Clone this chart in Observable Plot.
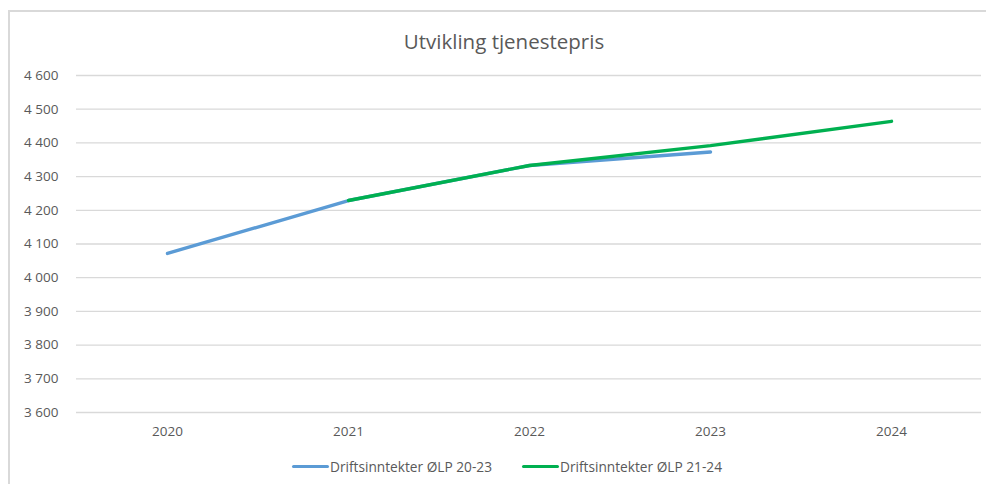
<!DOCTYPE html>
<html>
<head>
<meta charset="utf-8">
<script src="https://cdn.jsdelivr.net/npm/d3@7"></script>
<script src="https://cdn.jsdelivr.net/npm/@observablehq/plot@0.6"></script>
<style>
  html, body { margin: 0; padding: 0; background: #fff; }
  #wrap { position: relative; width: 986px; height: 484px; overflow: hidden; font-family: "Open Sans", sans-serif; color: #595959; }
  #frame { position: absolute; left: 8px; top: 10px; width: 990px; height: 480px; border-top: 2px solid #d9d9d9; border-left: 2px solid #d9d9d9; box-sizing: border-box; }
  #title { position: absolute; top: 27px; left: 0; width: 1008px; text-align: center; font-size: 20.5px; color: #595959; }
  #chart { position: absolute; left: 0; top: 60px; }
  #legend { position: absolute; top: 457px; left: 0; width: 986px; font-size: 13.7px; color: #595959; }
  .item { position: absolute; display: flex; align-items: center; }
  .sw { width: 37px; height: 3.2px; border-radius: 2px; margin-right: 1px; }
</style>
</head>
<body>
<div id="wrap">
  <div id="frame"></div>
  <div id="title"></div>
  <div id="chart"></div>
  <div id="legend"></div>
</div>
<script>
const title = "Utvikling tjenestepris";
const years = ["2020", "2021", "2022", "2023", "2024"];
const seriesNames = ["Driftsinntekter ØLP 20-23", "Driftsinntekter ØLP 21-24"];
const seriesColors = ["#5b9bd5", "#00b050"];
const blueValues = [4072, 4229, 4333, 4373, null];
const greenValues = [null, 4229, 4333, 4392, 4464];
const yTicks = [3600, 3700, 3800, 3900, 4000, 4100, 4200, 4300, 4400, 4500, 4600];

const fmt = d3.formatLocale({thousands: " ", grouping: [3], decimal: ","}).format(",");

const rows = [];
[blueValues, greenValues].forEach((vals, si) => {
  vals.forEach((v, i) => { if (v != null) rows.push({series: seriesNames[si], year: years[i], value: v}); });
});

document.getElementById("title").textContent = title;

const plot = Plot.plot({
  width: 986,
  height: 390,
  marginLeft: 76,
  marginRight: 5,
  marginTop: 15,
  marginBottom: 38,
  style: {fontFamily: "Open Sans, sans-serif", fontSize: "13.5px", color: "#595959", background: "transparent"},
  x: {type: "point", domain: years, padding: 0.5, label: null},
  y: {domain: [3600, 4600], label: null},
  color: {domain: seriesNames, range: seriesColors},
  marks: [
    Plot.gridY(yTicks, {stroke: "#d9d9d9", strokeOpacity: 1, strokeWidth: 1.3}),
    Plot.axisY(yTicks, {tickSize: 0, tickPadding: 18, tickFormat: fmt, label: null, fill: "#595959"}),
    Plot.axisX({tickSize: 0, tickPadding: 14, label: null, fill: "#595959"}),
    Plot.line(rows, {x: "year", y: "value", z: "series", stroke: "series", strokeWidth: 3.4, strokeLinecap: "round", strokeLinejoin: "round"})
  ]
});
document.getElementById("chart").appendChild(plot);

const legend = document.getElementById("legend");
const lefts = [292, 522];
seriesNames.forEach((name, i) => {
  const it = document.createElement("div");
  it.className = "item";
  it.style.left = lefts[i] + "px";
  const sw = document.createElement("div");
  sw.className = "sw";
  sw.style.background = seriesColors[i];
  const t = document.createElement("span");
  t.textContent = name;
  it.appendChild(sw); it.appendChild(t);
  legend.appendChild(it);
});
</script>
</body>
</html>
